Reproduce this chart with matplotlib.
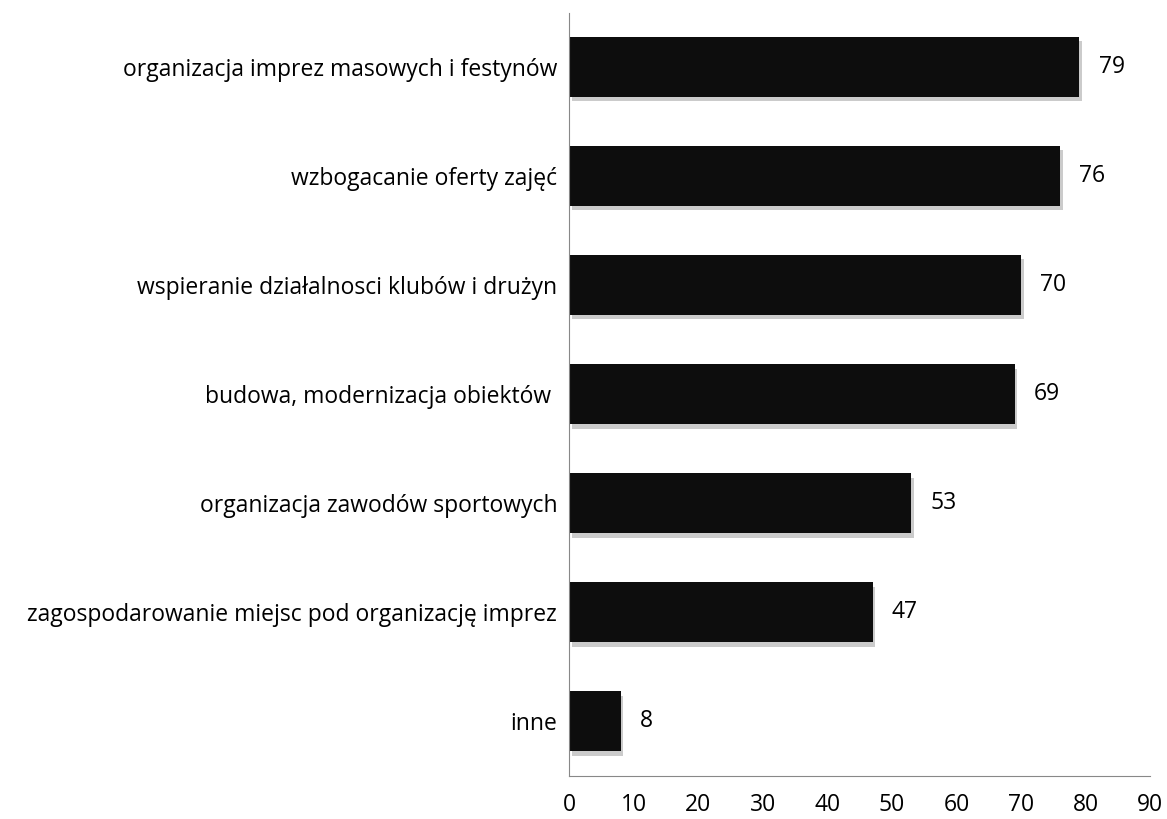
import matplotlib
matplotlib.use("Agg")
import matplotlib.pyplot as plt
import matplotlib.patheffects as pe

categories = [
    "organizacja imprez masowych i festynów",
    "wzbogacanie oferty zajęć",
    "wspieranie działalnosci klubów i drużyn",
    "budowa, modernizacja obiektów ",
    "organizacja zawodów sportowych",
    "zagospodarowanie miejsc pod organizację imprez",
    "inne",
]
values = [79, 76, 70, 69, 53, 47, 8]

plt.rcParams['font.family'] = ['Open Sans', 'DejaVu Sans']
fs = 16.5

fig = plt.figure(figsize=(11.67, 8.19), dpi=100)
ax = fig.add_axes([0.4876, 0.0525, 0.498, 0.932])

pos = list(range(len(categories)))[::-1]
bars = ax.barh(pos, values, height=0.55, color='#0d0d0d')
for b in bars:
    b.set_path_effects([pe.SimplePatchShadow(offset=(2, -3), shadow_rgbFace='#999999', alpha=0.5),
                        pe.Normal()])

for p, v in zip(pos, values):
    ax.annotate(str(v), (v, p), xytext=(14, 0), textcoords='offset points',
                va='center', ha='left', fontsize=fs)

ax.set_yticks(pos)
ax.set_yticklabels(categories, fontsize=fs)
ax.set_xlim(0, 90)
ax.set_ylim(-0.5, len(categories) - 0.5)
ax.set_xticks(range(0, 91, 10))
ax.tick_params(axis='x', labelsize=fs, length=0, pad=12)
ax.tick_params(axis='y', length=0, pad=8.5)

for s in ['top', 'right']:
    ax.spines[s].set_visible(False)
ax.spines['left'].set_color('#888888')
ax.spines['bottom'].set_color('#888888')

fig.savefig('out.png', dpi=100)
